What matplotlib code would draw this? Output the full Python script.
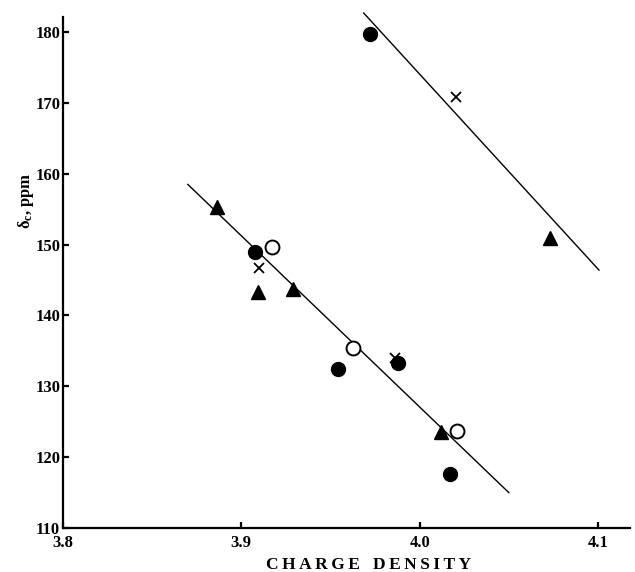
import matplotlib
matplotlib.use("Agg")
import matplotlib.pyplot as plt

plt.rcParams['font.family'] = ['Liberation Serif', 'DejaVu Serif']
plt.rcParams['font.weight'] = 'bold'
plt.rcParams['mathtext.fontset'] = 'custom'
plt.rcParams['mathtext.rm'] = 'Liberation Serif:bold'
plt.rcParams['mathtext.it'] = 'Liberation Serif:bold'
plt.rcParams['mathtext.bf'] = 'Liberation Serif:bold'

# points (charge density, shift in ppm)
filled_x = [3.9074, 3.9545, 3.988, 4.017, 3.9723]
filled_y = [149.0, 132.5, 133.3, 117.6, 179.7]
open_x = [3.9174, 3.9627, 4.021]
open_y = [149.7, 135.4, 123.7]
tri_x = [3.8864, 3.9095, 3.929, 4.012, 4.073]
tri_y = [155.3, 143.35, 143.8, 123.6, 150.9]
cross_x = [3.9102, 3.986, 4.0205]
cross_y = [146.65, 134.0, 170.8]

# the two drawn lines (end points)
line1_x = [3.870, 4.050]
line1_y = [158.5, 115.0]
line2_x = [3.9686, 4.1006]
line2_y = [182.7, 146.4]

xticks = [3.8, 3.9, 4.0, 4.1]
yticks = [110, 120, 130, 140, 150, 160, 170, 180]

fig = plt.figure(figsize=(6.35, 5.72), dpi=100)
ax = fig.add_axes([0.0992, 0.0769, 0.893, 0.893])

ax.plot(line1_x, line1_y, color='black', lw=1.0, zorder=2, clip_on=False)
ax.plot(line2_x, line2_y, color='black', lw=1.0, zorder=2, clip_on=False)

ax.plot(cross_x, cross_y, 'x', color='black', ms=7, mew=1.3, zorder=3)
ax.plot(filled_x, filled_y, 'o', color='black', ms=10, zorder=4)
ax.plot(open_x, open_y, 'o', mfc='white', mec='black', ms=10, mew=1.4, zorder=4)
ax.plot(tri_x, tri_y, '^', color='black', ms=10, zorder=4)

ax.set_xlim(3.8, 4.118)
ax.set_ylim(110, 182.1)
ax.set_xticks(xticks)
ax.set_xticklabels(['3.8', '3.9', '4.0', '4.1'])
ax.set_yticks(yticks)

for s in ['top', 'right']:
    ax.spines[s].set_visible(False)
for s in ['left', 'bottom']:
    ax.spines[s].set_linewidth(1.6)

ax.tick_params(direction='in', length=4, width=1.6, labelsize=12)
ax.tick_params(axis='y', pad=2)
ax.tick_params(axis='x', pad=5)
for lab in ax.get_xticklabels() + ax.get_yticklabels():
    lab.set_fontweight('bold')

ax.text(0.538, -0.072, 'C H A R G E    D E N S I T Y'.replace(' ', '\u2009').replace('\u2009\u2009\u2009\u2009', '   '),
        transform=ax.transAxes, ha='center', va='center', fontsize=12.5, fontweight='bold')
ax.text(-0.066, 0.64, r'$\delta_{c}$, ppm', transform=ax.transAxes,
        ha='center', va='center', rotation=90, fontsize=12, fontweight='bold')

fig.savefig('out.png', dpi=100)
